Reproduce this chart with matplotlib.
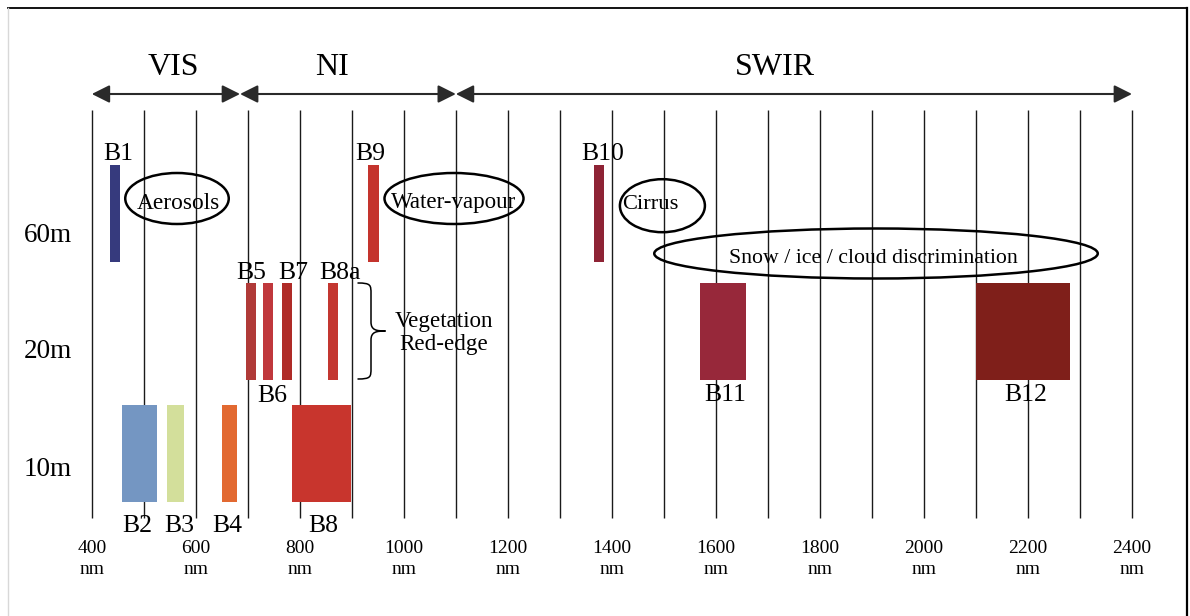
import matplotlib
matplotlib.use('Agg')
import matplotlib.pyplot as plt
from matplotlib.patches import Rectangle, Ellipse, PathPatch
from matplotlib.path import Path
from matplotlib.lines import Line2D

plt.rcParams['font.family'] = ['Liberation Serif', 'DejaVu Serif']

# ---------------- data ----------------
bands = ['B1', 'B2', 'B3', 'B4', 'B5', 'B6', 'B7', 'B8', 'B8a', 'B9', 'B10', 'B11', 'B12']
band_start = [435, 458, 544, 650, 697, 729, 766, 785, 854, 932, 1365, 1569, 2100]
band_end = [454, 525, 577, 679, 716, 748, 785, 898, 873, 952, 1385, 1658, 2281]
band_resolution = ['60m', '10m', '10m', '10m', '20m', '20m', '20m', '10m', '20m', '60m', '60m', '20m', '20m']
band_colors = ['#363A7D', '#7496C2', '#D3DF9B', '#E26931', '#B03A38', '#C0383C', '#AF2B27',
               '#C8352D', '#C33630', '#C4342D', '#8E2335', '#97283A', '#7F1F1A']

resolutions = ['10m', '20m', '60m']
regions = ['VIS', 'NI', 'SWIR']
region_bounds = [400, 685, 1100, 2400]

tick_values = [400, 600, 800, 1000, 1200, 1400, 1600, 1800, 2000, 2200, 2400]
grid_values = list(range(400, 2401, 100))

annotations = ['Aerosols', 'Water-vapour', 'Cirrus', 'Snow / ice / cloud discrimination']

# ---------------- layout ----------------
PX_PER_NM = 0.5201
X0_PX = 91.8
def px2nm(px):
    return 400 + (px - X0_PX) / PX_PER_NM

row_center = {'10m': 453.5, '20m': 331.0, '60m': 213.5}   # pixel rows (y axis inverted)
bar_half = 48.5
row_label_baseline = {'10m': 476.5, '20m': 357.5, '60m': 241.5}

# band label positions: (x in nm, baseline in px)
band_label_pos = {
    'B1': (451.5, 160), 'B9': (935, 160), 'B10': (1383, 160),
    'B5': (707, 279), 'B7': (788, 279), 'B8a': (878, 279),
    'B6': (746.5, 402), 'B11': (1617, 401), 'B12': (2196, 401),
    'B2': (487, 532.5), 'B3': (568.7, 532.5), 'B4': (660.4, 532.5), 'B8': (846, 532.5),
}
region_label_x = [557, 861, 1714]

# ellipses: center px (x, y), width px, height px; text pos px (x, baseline); font size
ellipse_geom = [
    ((177.0, 198.5), 103.5, 51, (178.4, 209.0), 16.8),
    ((454.0, 198.5), 139.0, 51, (454.0, 208.0), 16.6),
    ((662.4, 205.7), 85.0, 53, (650.7, 209.0), 16.2),
    ((876.0, 253.5), 443.5, 50, (873.0, 263.0), 15.7),
]

FS_REGION = 23
FS_BAND = 18.5
FS_ROW = 19.5
FS_NOTE = 16.6
FS_TICK = 14

# ---------------- figure ----------------
fig = plt.figure(figsize=(11.9, 6.16), dpi=100)
ax = fig.add_axes([0, 0, 1, 1])
ax.set_xlim(px2nm(0), px2nm(1190))
ax.set_ylim(616, 0)
ax.axis('off')

# frame
fig.add_artist(Line2D([7.6 / 1190, 1187 / 1190], [1 - 7.5 / 616] * 2, transform=fig.transFigure,
                      color='black', lw=1.3))
fig.add_artist(Line2D([1187 / 1190] * 2, [0, 1 - 7.5 / 616], transform=fig.transFigure,
                      color='black', lw=1.6))
fig.add_artist(Line2D([7.6 / 1190] * 2, [0, 1 - 7.5 / 616], transform=fig.transFigure,
                      color='#D8D8D8', lw=1.0))

# vertical grid lines
ax.vlines(grid_values, 110, 518, color='#1a1a1a', lw=1.0, zorder=1)

# region arrows
for i, name in enumerate(regions):
    a, b = region_bounds[i], region_bounds[i + 1]
    ax.annotate('', xy=(b, 94), xytext=(a, 94),
                arrowprops=dict(arrowstyle='<|-|>,head_length=0.4,head_width=0.2',
                                mutation_scale=27, lw=1.5, color='#2a2a2a',
                                shrinkA=0, shrinkB=0))
    ax.text(region_label_x[i], 75, name, fontsize=FS_REGION, ha='center', va='baseline')

# bars
for name, s, e, res, c in zip(bands, band_start, band_end, band_resolution, band_colors):
    yc = row_center[res]
    ax.add_patch(Rectangle((s, yc - bar_half), e - s, 2 * bar_half, facecolor=c,
                           edgecolor='none', zorder=2))
    lx, ly = band_label_pos[name]
    ax.text(lx, ly, name, fontsize=FS_BAND, ha='center', va='baseline', zorder=4)

# row labels
for r in resolutions:
    ax.text(px2nm(23.5), row_label_baseline[r], r, fontsize=FS_ROW, ha='left', va='baseline')

# tick labels
for v in tick_values:
    ax.text(v, 553, str(v), fontsize=FS_TICK, ha='center', va='baseline')
    ax.text(v, 573.5, 'nm', fontsize=FS_TICK, ha='center', va='baseline')

# ellipse annotations
for label, (cxy, w, h, txy, fs) in zip(annotations, ellipse_geom):
    cx, cy = cxy
    ax.add_patch(Ellipse((px2nm(cx), cy), w / PX_PER_NM, h, facecolor='none',
                         edgecolor='black', lw=1.8, zorder=3))
    ax.text(px2nm(txy[0]), txy[1], label, fontsize=fs, ha='center', va='baseline', zorder=4)

# curly brace for red-edge bands
xl, xm, xt = px2nm(357.5), px2nm(371.0), px2nm(385.5)
yt, yb, yc = 283.0, 379.0, 331.0
verts = [
    (xl, yt),
    (xm, yt), (xm, yt + 2), (xm, yt + 11),
    (xm, yc - 9),
    (xm, yc - 1), (xm + (xt - xm) * 0.35, yc), (xt, yc),
    (xm + (xt - xm) * 0.35, yc), (xm, yc + 1), (xm, yc + 9),
    (xm, yb - 11),
    (xm, yb - 2), (xm, yb), (xl, yb),
]
codes = [Path.MOVETO,
         Path.CURVE4, Path.CURVE4, Path.CURVE4,
         Path.LINETO,
         Path.CURVE4, Path.CURVE4, Path.CURVE4,
         Path.CURVE4, Path.CURVE4, Path.CURVE4,
         Path.LINETO,
         Path.CURVE4, Path.CURVE4, Path.CURVE4]
ax.add_patch(PathPatch(Path(verts, codes), facecolor='none', edgecolor='black', lw=1.1, zorder=3))
ax.text(px2nm(443.7), 327.0, 'Vegetation', fontsize=FS_NOTE, ha='center', va='baseline')
ax.text(px2nm(443.7), 350.0, 'Red-edge', fontsize=FS_NOTE, ha='center', va='baseline')

fig.savefig('out.png', dpi=100)
